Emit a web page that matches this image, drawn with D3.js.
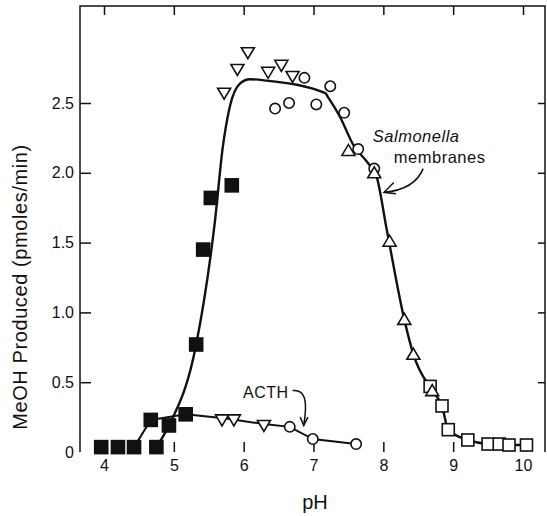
<!DOCTYPE html>
<html>
<head>
<meta charset="utf-8">
<script src="https://cdn.jsdelivr.net/npm/d3@7"></script>
<style>
  body { margin: 0; background: #fff; }
  svg { display: block; font-family: "Liberation Sans", Arial, sans-serif; }
</style>
</head>
<body>
<script>
// filled squares
const fsqPH = [3.96, 4.2, 4.43, 4.75, 4.67, 4.93, 5.17, 5.32, 5.42, 5.53, 5.83];
const fsqV = [0.035, 0.035, 0.035, 0.035, 0.23, 0.19, 0.27, 0.77, 1.45, 1.82, 1.91];
// open down triangles
const dtriPH = [5.72, 5.91, 6.06, 6.35, 6.54, 6.7, 5.69, 5.86, 6.29];
const dtriV = [2.57, 2.74, 2.86, 2.72, 2.77, 2.69, 0.23, 0.23, 0.19];
// open circles
const circPH = [6.45, 6.65, 6.87, 7.04, 7.24, 7.44, 7.64, 7.87, 6.66, 6.99, 7.61];
const circV = [2.46, 2.5, 2.68, 2.49, 2.62, 2.43, 2.17, 2.03, 0.18, 0.093, 0.057];
// open up triangles
const utriPH = [7.5, 7.87, 8.09, 8.3, 8.43, 8.7];
const utriV = [2.16, 2.0, 1.51, 0.95, 0.7, 0.44];
// open squares
const osqPH = [8.67, 8.84, 8.93, 9.21, 9.5, 9.66, 9.8, 10.05];
const osqV = [0.47, 0.33, 0.16, 0.086, 0.057, 0.057, 0.05, 0.05];
// drawn curves
const membPH = [4.75, 4.93, 5.32, 5.59, 5.7, 5.8, 5.95, 6.09, 6.33, 7.17, 7.21, 7.38, 7.57, 7.78, 7.9, 8.05, 8.3, 8.43, 8.7, 8.84, 8.93, 9.21, 9.5, 10.05];
const membV = [0.035, 0.19, 0.77, 1.66, 2.18, 2.47, 2.64, 2.67, 2.66, 2.57, 2.54, 2.4, 2.2, 2.07, 1.98, 1.59, 0.95, 0.7, 0.44, 0.33, 0.16, 0.086, 0.057, 0.05];
const acthPH = [4.43, 4.67, 5.17, 5.75, 6.29, 6.66, 6.99, 7.61];
const acthV = [0.035, 0.23, 0.27, 0.24, 0.2, 0.18, 0.093, 0.057];
// ticks
const xTicks = [4, 5, 6, 7, 8, 9, 10];
const yTicks = [0, 0.5, 1.0, 1.5, 2.0, 2.5];

const W = 547, H = 516;
const x = d3.scaleLinear().domain([4, 10]).range([104, 523]);
const y = d3.scaleLinear().domain([0, 2.5]).range([452, 103]);
const fLeft = 80, fRight = 545, fTop = 6, fBottom = 452;

const svg = d3.select("body").append("svg").attr("width", W).attr("height", H);

const zip = (a, b) => a.map((d, i) => [d, b[i]]);

// frame
svg.append("path")
  .attr("d", `M${fLeft},${fBottom}V${fTop}H${fRight}V${fBottom}`)
  .attr("fill", "none").attr("stroke", "#111").attr("stroke-width", 1.5);

const bAxis = svg.append("g").attr("transform", `translate(0,${fBottom})`)
  .call(d3.axisBottom(x).tickValues(xTicks).tickSize(-10).tickPadding(8).tickFormat(d3.format("d")));
const tAxis = svg.append("g").attr("transform", `translate(0,${fTop})`)
  .call(d3.axisTop(x).tickValues(xTicks).tickSize(-9).tickFormat(""));
const lAxis = svg.append("g").attr("transform", `translate(${fLeft},0)`)
  .call(d3.axisLeft(y).tickValues(yTicks).tickSize(-11).tickPadding(6)
    .tickFormat(d => d === 0 ? "0" : d3.format(".1f")(d)));
const rAxis = svg.append("g").attr("transform", `translate(${fRight},0)`)
  .call(d3.axisRight(y).tickValues(yTicks.slice(1)).tickSize(-7).tickFormat(""));

[bAxis, tAxis, lAxis, rAxis].forEach(g => {
  g.select(".domain").remove();
  g.selectAll(".tick line").attr("stroke", "#111").attr("stroke-width", 1.5);
  g.selectAll("text").attr("font-size", 16).attr("fill", "#111")
    .attr("font-family", "'Liberation Sans', Arial, sans-serif");
});
lAxis.selectAll(".tick").filter(d => d === 0).select("line").remove();

// axis titles
svg.append("text").attr("x", 315).attr("y", 509).attr("text-anchor", "middle")
  .attr("font-size", 20).attr("fill", "#111").text("pH");
svg.append("text").attr("transform", "translate(27,287) rotate(-90)")
  .attr("text-anchor", "middle").attr("font-size", 20).attr("fill", "#111")
  .attr("letter-spacing", 0.6)
  .text("MeOH Produced (pmoles/min)");

// curves
const line = d3.line().x(d => x(d[0])).y(d => y(d[1]));
svg.append("path").datum(zip(membPH, membV))
  .attr("d", line.curve(d3.curveMonotoneX))
  .attr("fill", "none").attr("stroke", "#111").attr("stroke-width", 2.4);
svg.append("path").datum(zip(acthPH, acthV))
  .attr("d", d3.line().x(d => x(d[0])).y(d => y(d[1])))
  .attr("fill", "none").attr("stroke", "#111").attr("stroke-width", 2);

// markers
const mk = svg.append("g").attr("stroke", "#111").attr("stroke-width", 1.6);
mk.selectAll(".fsq").data(zip(fsqPH, fsqV)).join("rect")
  .attr("x", d => x(d[0]) - 6.5).attr("y", d => y(d[1]) - 6.5)
  .attr("width", 13).attr("height", 13).attr("fill", "#111");
mk.selectAll(".osq").data(zip(osqPH, osqV)).join("rect")
  .attr("x", d => x(d[0]) - 6).attr("y", d => y(d[1]) - 6)
  .attr("width", 12).attr("height", 12).attr("fill", "#fff");
mk.selectAll(".circ").data(zip(circPH, circV)).join("circle")
  .attr("cx", d => x(d[0])).attr("cy", d => y(d[1])).attr("r", 5.2).attr("fill", "#fff");
mk.selectAll(".dtri").data(zip(dtriPH, dtriV)).join("path")
  .attr("d", d => { const cx = x(d[0]), cy = y(d[1]);
    return `M${cx - 6.5},${cy - 5}L${cx + 6.5},${cy - 5}L${cx},${cy + 6}Z`; })
  .attr("fill", "#fff");
mk.selectAll(".utri").data(zip(utriPH, utriV)).join("path")
  .attr("d", d => { const cx = x(d[0]), cy = y(d[1]);
    return `M${cx - 6.5},${cy + 5}L${cx + 6.5},${cy + 5}L${cx},${cy - 6}Z`; })
  .attr("fill", "#fff");

// annotations
svg.append("text").attr("x", x(7.85)).attr("y", y(2.22))
  .attr("font-size", 16.5).attr("font-style", "italic").attr("fill", "#111")
  .attr("letter-spacing", 0.5).text("Salmonella");
svg.append("text").attr("x", x(8.15)).attr("y", y(2.07))
  .attr("font-size", 16.5).attr("fill", "#111").attr("letter-spacing", 0.5).text("membranes");
svg.append("path")
  .attr("d", `M${x(8.57)},${y(2.03)}Q${x(8.45)},${y(1.88)} ${x(8.01)},${y(1.86)}`)
  .attr("fill", "none").attr("stroke", "#111").attr("stroke-width", 1.5);
svg.append("path")
  .attr("d", `M${x(8.15)},${y(1.93)}L${x(8.01)},${y(1.86)}L${x(8.18)},${y(1.85)}`)
  .attr("fill", "none").attr("stroke", "#111").attr("stroke-width", 1.5);

svg.append("text").attr("x", x(5.99)).attr("y", y(0.39))
  .attr("font-size", 16).attr("fill", "#111").attr("letter-spacing", 0.5).text("ACTH");
svg.append("path")
  .attr("d", `M${x(6.7)},${y(0.44)}C${x(6.88)},${y(0.45)} ${x(6.92)},${y(0.37)} ${x(6.86)},${y(0.19)}`)
  .attr("fill", "none").attr("stroke", "#111").attr("stroke-width", 1.5);
svg.append("path")
  .attr("d", `M${x(6.81)},${y(0.25)}L${x(6.86)},${y(0.19)}L${x(6.92)},${y(0.25)}`)
  .attr("fill", "none").attr("stroke", "#111").attr("stroke-width", 1.5);
</script>
</body>
</html>
